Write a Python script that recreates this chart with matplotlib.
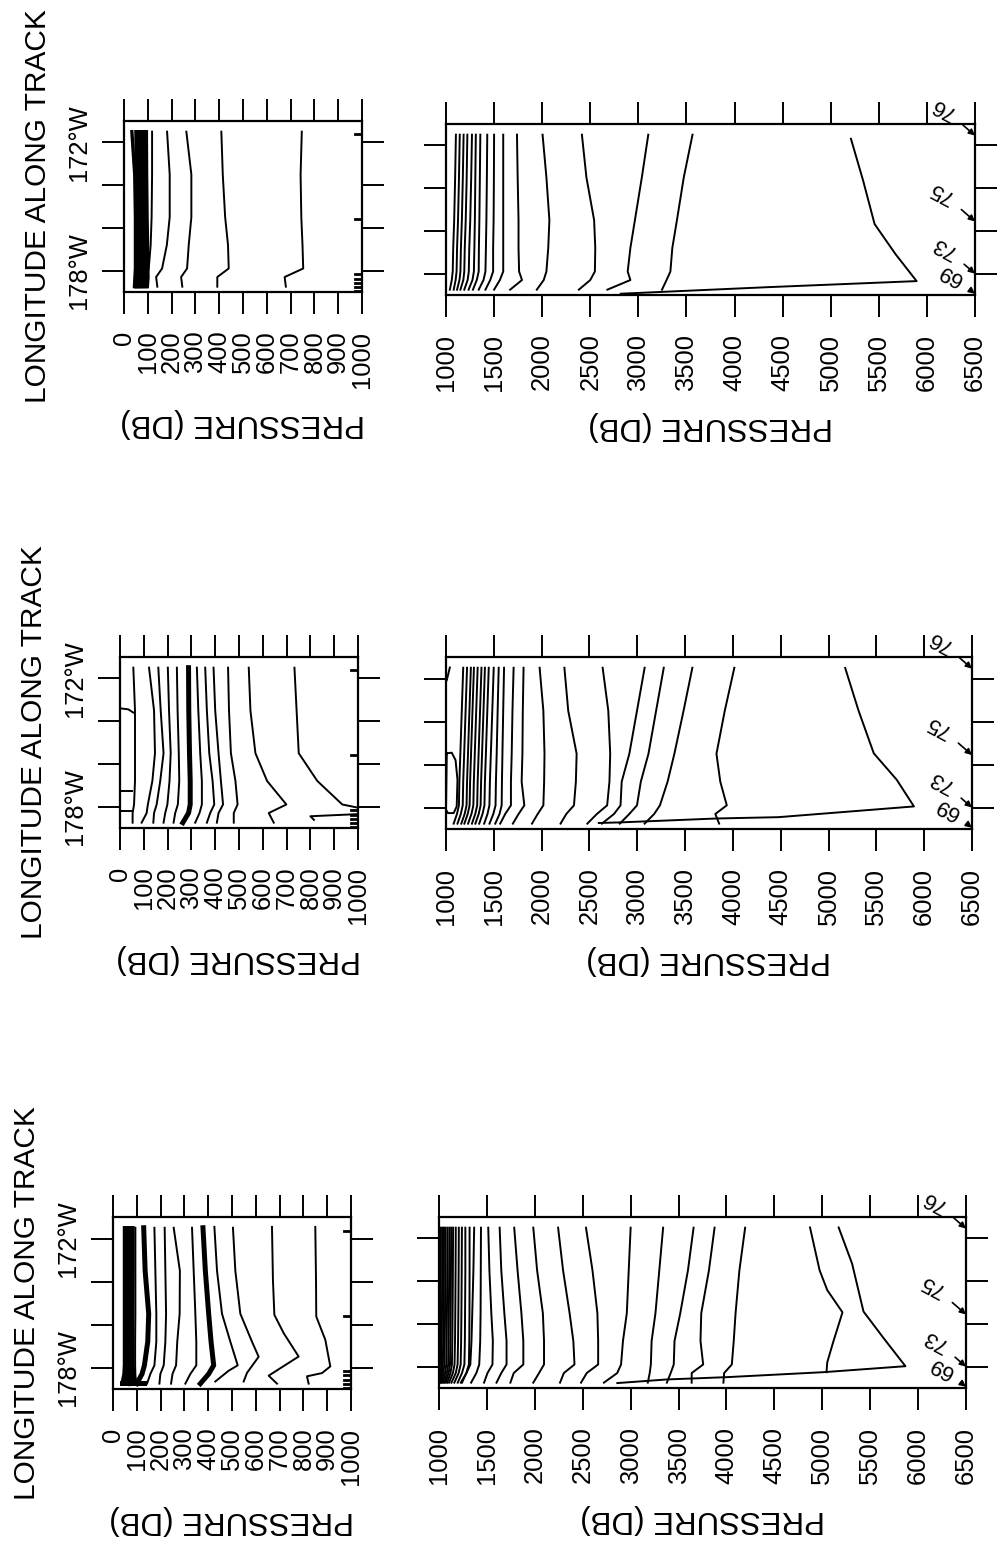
import matplotlib
matplotlib.use("Agg")
import matplotlib.pyplot as plt

plt.rcParams['font.family'] = ['Liberation Sans', 'DejaVu Sans']

W, H = 997, 1553

# ---------------- data ----------------
LON_GRID = [171.5, 173.5, 175.5, 176.8, 177.9, 178.3, 178.75]   # degrees W

SHALLOW_TICKS = [0, 100, 200, 300, 400, 500, 600, 700, 800, 900, 1000]
DEEP_TICKS = [1000, 1500, 2000, 2500, 3000, 3500, 4000, 4500, 5000, 5500, 6000, 6500]
LON_TICKS = [178, 176, 174, 172]
LON_TICK_LABELS = ['178°W', '', '', '172°W']

STATION_NAMES = ['69', '73', '75', '76']
STATION_LONS = [178.94, 178.0, 175.56, 171.54]
STATION_MARK_LONS = [178.97, 178.78, 178.6, 178.37, 178.14, 175.6, 171.63]

# ---- panel 1 (top) shallow: pressures on LON_GRID
g1_shallow_bundle = [
    [33, 45, 48, 48, 48, 46, 44],
    [50, 52, 53, 53, 52, 51, 49],
    [56, 57, 58, 58, 57, 56, 54],
    [61, 62, 63, 63, 62, 61, 59],
    [66, 67, 68, 68, 67, 67, 65],
    [71, 72, 73, 73, 73, 72, 71],
    [76, 77, 78, 79, 79, 79, 77],
    [81, 82, 84, 85, 86, 86, 84],
    [87, 88, 90, 92, 93, 94, 91],
    [94, 95, 97, 99, 100, 101, 98],
]
g1_shallow_lines = [
    [118, 118, 116, 112, 104, 96, 92],
    [181, 192, 192, 180, 160, 135, 140],
    [262, 283, 283, 272, 265, 240, 245],
    [409, 415, 425, 437, 440, 392, 392],
    [747, 742, 745, 750, 753, 675, 680],
]

# ---- panel 1 deep
g1_deep_lines = [
    [1103, 1095, 1085, 1075, 1070, 1060, 1040],
    [1143, 1135, 1125, 1115, 1110, 1100, 1080],
    [1183, 1175, 1165, 1155, 1150, 1140, 1115],
    [1222, 1215, 1205, 1195, 1190, 1180, 1150],
    [1270, 1262, 1252, 1242, 1237, 1225, 1190],
    [1310, 1305, 1300, 1295, 1290, 1275, 1235],
    [1357, 1352, 1347, 1342, 1340, 1320, 1280],
    [1429, 1425, 1420, 1415, 1410, 1390, 1340],
    [1500, 1498, 1495, 1490, 1490, 1460, 1410],
    [1595, 1595, 1595, 1595, 1595, 1560, 1500],
    [1738, 1745, 1754, 1754, 1760, 1790, 1667],
    [2004, 2044, 2075, 2063, 2044, 2016, 1944],
    [2413, 2460, 2540, 2552, 2548, 2500, 2381],
    [3103, 3036, 2964, 2917, 2889, 2917, 2678],
    [3563, 3472, 3401, 3353, 3333, 3293, 3246],
]
g1_deep_bottom_p = [5210, 5337, 5456, 5674, 5893, 4365, 2817]
g1_deep_bottom_lon = [171.69, 173.65, 175.68, 177.09, 178.35, 178.63, 178.94]

# ---- panel 2 (middle) shallow
g2_shallow_lines = [
    [56, 63, 63, 63, 59, 53, 53],
    [122, 143, 147, 136, 117, 112, 91],
    [161, 171, 183, 169, 154, 143, 140],
    [201, 206, 213, 208, 199, 190, 183],
    [239, 242, 247, 249, 243, 232, 225],
    [323, 329, 337, 344, 344, 334, 316],
    [358, 365, 375, 389, 396, 379, 365],
    [393, 400, 414, 424, 433, 414, 407],
    [454, 458, 466, 485, 494, 478, 478],
    [541, 548, 569, 618, 699, 625, 646],
]
g2_shallow_thick = [288, 289, 292, 295, 295, 288, 264]
g2_shallow_edge_p = [733, 742, 751, 829, 934, 1000]
g2_shallow_edge_lon = [171.5, 173.5, 175.5, 176.8, 177.9, 178.05]
g2_shallow_hook_p = [1000, 800, 815]
g2_shallow_hook_lon = [178.35, 178.45, 178.62]
g2_shallow_surf_p = [[0, 35, 56], [0, 50], [0, 50]]
g2_shallow_surf_lon = [[173.4, 173.45, 173.6], [177.27, 177.27], [178.2, 178.2]]

# ---- panel 2 deep
g2_deep_lines = [
    [1180, 1165, 1150, 1140, 1135, 1115, 1080],
    [1220, 1205, 1190, 1180, 1175, 1155, 1120],
    [1260, 1245, 1230, 1220, 1215, 1195, 1160],
    [1292, 1277, 1262, 1252, 1247, 1227, 1192],
    [1331, 1316, 1301, 1291, 1286, 1266, 1231],
    [1371, 1356, 1341, 1331, 1326, 1306, 1271],
    [1407, 1392, 1377, 1367, 1362, 1342, 1307],
    [1447, 1432, 1417, 1407, 1402, 1382, 1347],
    [1499, 1484, 1469, 1459, 1454, 1434, 1399],
    [1551, 1540, 1530, 1522, 1518, 1495, 1455],
    [1607, 1598, 1590, 1585, 1582, 1560, 1515],
    [1707, 1695, 1687, 1679, 1679, 1619, 1567],
    [1811, 1803, 1799, 1791, 1819, 1759, 1699],
    [1979, 2018, 2030, 2026, 2018, 1959, 1899],
    [2238, 2278, 2366, 2358, 2338, 2258, 2198],
    [2638, 2697, 2717, 2709, 2685, 2578, 2478],
    [3077, 2997, 2917, 2837, 2825, 2757, 2630],
    [3277, 3197, 3117, 3037, 2997, 2917, 2817],
    [3576, 3484, 3388, 3317, 3237, 3177, 3077],
    [4015, 3915, 3828, 3868, 3936, 3816, 3856],
]
g2_deep_bottom_p = [5174, 5314, 5473, 5713, 5893, 4475, 3836, 2837, 2598]
g2_deep_bottom_lon = [171.51, 173.5, 175.48, 176.71, 177.95, 178.45, 178.51, 178.69, 178.72]
g2_deep_surf_p = [[1040, 1008],
                  [1008, 1060, 1100, 1120, 1112, 1080, 1020, 1000, 1008]]
g2_deep_surf_lon = [[171.49, 172.08],
                    [175.48, 175.45, 175.8, 176.71, 177.95, 178.26, 178.26, 178.1, 175.48]]

# ---- panel 3 (bottom) shallow
g3_shallow_band = [
    [48, 48, 48, 48, 48, 46, 38],
    [53, 53, 53, 53, 53, 51, 45],
    [58, 58, 58, 58, 58, 57, 52],
    [63, 63, 63, 63, 63, 62, 60],
    [68, 68, 68, 68, 68, 68, 68],
    [73, 73, 73, 73, 73, 74, 76],
    [78, 78, 78, 78, 78, 80, 85],
    [84, 84, 83, 83, 84, 88, 95],
]
g3_shallow_thick = [
    [129, 135, 150, 146, 132, 122, 100],
    [378, 388, 402, 412, 423, 402, 367],
]
g3_shallow_lines = [
    [94, 94, 94, 93, 93, 94, 96],
    [174, 178, 182, 182, 174, 157, 143],
    [217, 220, 223, 220, 213, 199, 195],
    [255, 281, 280, 270, 265, 250, 244],
    [332, 339, 346, 350, 350, 325, 304],
]
g3_shallow_free_p = [
    [426, 437, 458, 493, 524, 486, 430],
    [504, 514, 535, 584, 612, 563, 549],
    [668, 672, 678, 717, 780, 654, 689],
    [850, 853, 854, 892, 913, 878, 815, 822],
]
g3_shallow_free_lon = [
    [171.46, 173.5, 175.5, 176.8, 177.9, 178.15, 178.65],
    [171.5, 173.5, 175.5, 176.8, 177.5, 178.25, 178.65],
    [171.46, 173.93, 175.55, 176.4, 177.49, 178.38, 178.75],
    [171.46, 173.93, 175.63, 176.71, 177.95, 178.26, 178.41, 178.75],
]
g3_shallow_base_p = [38, 130]
g3_shallow_base_lon = [178.7, 178.7]

# ---- panel 3 deep
g3_deep_lines = [
    [1020, 1018, 1015, 1012, 1010, 1005, 1002],
    [1036, 1034, 1031, 1028, 1025, 1018, 1010],
    [1052, 1050, 1047, 1044, 1040, 1030, 1018],
    [1068, 1066, 1063, 1060, 1056, 1045, 1028],
    [1088, 1086, 1083, 1080, 1076, 1063, 1040],
    [1108, 1106, 1103, 1100, 1096, 1082, 1055],
    [1127, 1125, 1122, 1119, 1115, 1100, 1070],
    [1147, 1145, 1142, 1139, 1135, 1120, 1085],
    [1175, 1173, 1170, 1167, 1162, 1145, 1105],
    [1207, 1205, 1202, 1199, 1194, 1175, 1130],
    [1239, 1237, 1234, 1231, 1226, 1205, 1160],
    [1275, 1275, 1272, 1270, 1265, 1240, 1195],
    [1319, 1319, 1318, 1316, 1312, 1285, 1240],
    [1367, 1359, 1347, 1339, 1327, 1287, 1227],
    [1438, 1436, 1434, 1430, 1420, 1390, 1335],
    [1514, 1526, 1546, 1562, 1558, 1506, 1470],
    [1633, 1650, 1682, 1705, 1705, 1650, 1600],
    [1785, 1820, 1860, 1880, 1880, 1780, 1745],
    [1984, 2024, 2084, 2096, 2096, 2044, 1984],
    [2243, 2295, 2363, 2402, 2414, 2303, 2263],
    [2534, 2602, 2653, 2661, 2661, 2542, 2482],
    [3000, 2980, 2960, 2920, 2900, 2860, 2721],
    [3339, 3299, 3259, 3219, 3211, 3199, 3179],
    [3657, 3598, 3518, 3458, 3450, 3418, 3378],
    [3876, 3817, 3737, 3729, 3757, 3637, 3637],
    [4195, 4135, 4095, 4076, 4056, 3976, 3968],
]
g3_deep_mid_p = [4872, 4972, 5052, 5211, 5112, 5052, 5044]
g3_deep_mid_lon = [171.49, 173.49, 174.42, 175.46, 176.88, 177.8, 178.26]
g3_deep_bottom_p = [5171, 5311, 5430, 5649, 5868, 5012, 4016, 3378, 2861]
g3_deep_bottom_lon = [171.49, 173.18, 175.42, 176.72, 177.98, 178.26, 178.49, 178.6, 178.77]

# ---------------- layout / style ----------------
PANEL_PX = {
    'g1s': (124, 121, 362, 292), 'g1d': (446, 124, 975, 295),
    'g2s': (120, 657, 358, 828), 'g2d': (446, 657, 972, 829),
    'g3s': (113, 1217, 351, 1389), 'g3d': (439, 1217, 966, 1388),
}
STATION_OFFSETS = [(-18, 14), (-22, 19), (-24, 21), (-23, 20)]
THIN = 1.4
THICK = 3.6
BAND = 2.4


def rect(key):
    x0, y0, x1, y1 = PANEL_PX[key]
    return [x0 / W, 1 - y1 / H, (x1 - x0) / W, (y1 - y0) / H]


def neg(lons):
    return [-v for v in lons]


def setup(ax, shallow):
    ticks = SHALLOW_TICKS if shallow else DEEP_TICKS
    ax.set_xlim(ticks[0], ticks[-1])
    ax.set_ylim(-179, -171)
    ax.set_xticks(ticks)
    ax.set_xticklabels([str(t) for t in ticks], rotation=90, fontsize=18.4)
    ax.set_yticks(neg(LON_TICKS))
    if shallow:
        ax.set_yticklabels(LON_TICK_LABELS, rotation=90, va='center', fontsize=18.4)
        ax.set_ylabel('LONGITUDE ALONG TRACK', fontsize=21.5, labelpad=11)
    else:
        ax.set_yticklabels([])
    ax.set_xlabel('PRESSURE (DB)', rotation=180, fontsize=22.5, labelpad=15)
    ax.tick_params(axis='both', which='major', direction='out', length=15.8,
                   width=1.4, top=True, right=True, labeltop=False, labelright=False,
                   color='black')
    ax.tick_params(axis='x', pad=12)
    ax.tick_params(axis='y', pad=8)
    for s in ax.spines.values():
        s.set_linewidth(1.6)


def grid_lines(ax, lines, lw):
    for pl in lines:
        ax.plot(pl, neg(LON_GRID), color='black', lw=lw, solid_joinstyle='round')


def free_line(ax, p, lon, lw=THIN):
    ax.plot(p, neg(lon), color='black', lw=lw, solid_joinstyle='round')


def station_marks(ax):
    for lon in STATION_MARK_LONS:
        ax.plot([970, 1000], [-lon, -lon], color='black', lw=2.0)


def station_labels(ax):
    for name, lon, off in zip(STATION_NAMES, STATION_LONS, STATION_OFFSETS):
        ax.annotate(name, xy=(6500, -lon), xytext=off, textcoords='offset points',
                    rotation=152, fontsize=16, ha='center', va='center',
                    annotation_clip=False,
                    arrowprops=dict(arrowstyle='-|>', color='black', lw=1.2,
                                    mutation_scale=9, shrinkA=1, shrinkB=0))


fig = plt.figure(figsize=(W / 100, H / 100), dpi=100)

# panel 1
ax = fig.add_axes(rect('g1s'))
setup(ax, True)
grid_lines(ax, g1_shallow_bundle, BAND)
grid_lines(ax, g1_shallow_lines, THIN)
station_marks(ax)

ax = fig.add_axes(rect('g1d'))
setup(ax, False)
grid_lines(ax, g1_deep_lines, THIN)
free_line(ax, g1_deep_bottom_p, g1_deep_bottom_lon)
station_labels(ax)

# panel 2
ax = fig.add_axes(rect('g2s'))
setup(ax, True)
grid_lines(ax, g2_shallow_lines, THIN)
grid_lines(ax, [g2_shallow_thick], THICK)
free_line(ax, g2_shallow_edge_p, g2_shallow_edge_lon)
free_line(ax, g2_shallow_hook_p, g2_shallow_hook_lon)
for p, l in zip(g2_shallow_surf_p, g2_shallow_surf_lon):
    free_line(ax, p, l)
station_marks(ax)

ax = fig.add_axes(rect('g2d'))
setup(ax, False)
grid_lines(ax, g2_deep_lines, THIN)
free_line(ax, g2_deep_bottom_p, g2_deep_bottom_lon)
for p, l in zip(g2_deep_surf_p, g2_deep_surf_lon):
    free_line(ax, p, l)
station_labels(ax)

# panel 3
ax = fig.add_axes(rect('g3s'))
setup(ax, True)
grid_lines(ax, g3_shallow_band, BAND)
grid_lines(ax, g3_shallow_thick, THICK)
grid_lines(ax, g3_shallow_lines, THIN)
for p, l in zip(g3_shallow_free_p, g3_shallow_free_lon):
    free_line(ax, p, l)
free_line(ax, g3_shallow_base_p, g3_shallow_base_lon, THICK)
station_marks(ax)

ax = fig.add_axes(rect('g3d'))
setup(ax, False)
grid_lines(ax, g3_deep_lines, THIN)
free_line(ax, g3_deep_mid_p, g3_deep_mid_lon)
free_line(ax, g3_deep_bottom_p, g3_deep_bottom_lon)
station_labels(ax)

fig.savefig('out.png', dpi=100, facecolor='white')
